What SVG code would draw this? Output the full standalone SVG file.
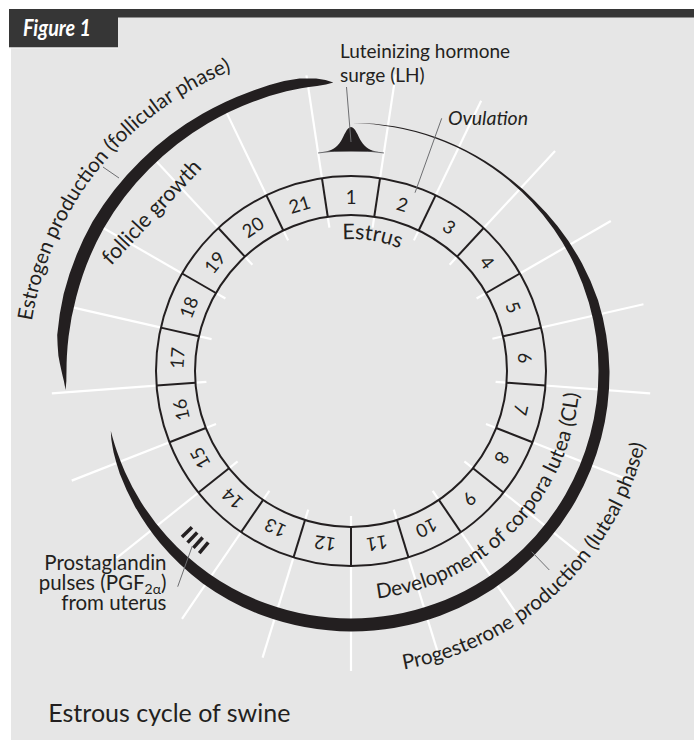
<svg xmlns="http://www.w3.org/2000/svg" width="694" height="740" viewBox="0 0 694 740">
<style>
.t{font-family:Lato,"Noto Sans",sans-serif;fill:#231f20}
.num{font-family:Lato,"Noto Sans",sans-serif;fill:#231f20;font-size:18.5px;text-anchor:middle}
.wl{stroke:#ffffff;stroke-width:2.2}
.dv{stroke:#231f20;stroke-width:2}
.ld{stroke:#6d6e71;stroke-width:1;fill:none}
.blk{fill:#231f20}
</style>
<defs>
<path id="pEst" d="M50.26,488.86 A323,323 0 0 1 399.30,51.63"/>
<path id="pProg" d="M262.41,660.76 A303,303 0 0 0 646.23,302.84"/>
<path id="pDev" d="M293.66,592.71 A229,229 0 0 0 571.67,309.80"/>
<path id="pEstrus" d="M248.42,287.93 A132,132 0 0 1 474.23,323.70"/>
</defs>
<rect x="0" y="0" width="694" height="740" fill="#ffffff"/>
<rect x="11" y="17" width="683" height="723" fill="#e6e6e6"/>
<g id="header">
<rect x="9" y="9" width="685" height="8.5" fill="#363636"/>
<rect x="9" y="9" width="109" height="38.5" fill="#363636"/>
<line x1="9" y1="48" x2="118" y2="48" stroke="#f4f4f4" stroke-width="1"/>
<text class="t" x="23" y="36" font-size="22" font-weight="700" font-style="italic" style="fill:#ffffff" textLength="68" lengthAdjust="spacingAndGlyphs">Figure 1</text>
</g>
<g id="guides">
<line class="wl" x1="351" y1="226" x2="351" y2="71" transform="rotate(8.571 351 371)"/>
<line class="wl" x1="351" y1="226" x2="351" y2="71" transform="rotate(25.714 351 371)"/>
<line class="wl" x1="351" y1="226" x2="351" y2="71" transform="rotate(42.857 351 371)"/>
<line class="wl" x1="351" y1="226" x2="351" y2="71" transform="rotate(60 351 371)"/>
<line class="wl" x1="351" y1="226" x2="351" y2="71" transform="rotate(77.143 351 371)"/>
<line class="wl" x1="351" y1="226" x2="351" y2="71" transform="rotate(94.286 351 371)"/>
<line class="wl" x1="351" y1="226" x2="351" y2="71" transform="rotate(111.429 351 371)"/>
<line class="wl" x1="351" y1="226" x2="351" y2="71" transform="rotate(128.571 351 371)"/>
<line class="wl" x1="351" y1="226" x2="351" y2="71" transform="rotate(145.714 351 371)"/>
<line class="wl" x1="351" y1="226" x2="351" y2="71" transform="rotate(162.857 351 371)"/>
<line class="wl" x1="351" y1="226" x2="351" y2="71" transform="rotate(180 351 371)"/>
<line class="wl" x1="351" y1="226" x2="351" y2="71" transform="rotate(197.143 351 371)"/>
<line class="wl" x1="351" y1="226" x2="351" y2="71" transform="rotate(214.286 351 371)"/>
<line class="wl" x1="351" y1="226" x2="351" y2="71" transform="rotate(231.429 351 371)"/>
<line class="wl" x1="351" y1="226" x2="351" y2="71" transform="rotate(248.571 351 371)"/>
<line class="wl" x1="351" y1="226" x2="351" y2="71" transform="rotate(265.714 351 371)"/>
<line class="wl" x1="351" y1="228" x2="351" y2="82" transform="rotate(282.857 351 371)"/>
<line class="wl" x1="351" y1="226" x2="351" y2="82" transform="rotate(300 351 371)"/>
<line class="wl" x1="351" y1="226" x2="351" y2="82" transform="rotate(317.143 351 371)"/>
<line class="wl" x1="351" y1="226" x2="351" y2="82" transform="rotate(334.286 351 371)"/>
<line class="wl" x1="351" y1="226" x2="351" y2="72" transform="rotate(351.429 351 371)"/>
</g>
<g id="ring">
<circle cx="351" cy="371" r="175.5" fill="none" stroke="#e6e6e6" stroke-width="39"/>
<circle cx="351" cy="371" r="195" fill="none" stroke="#231f20" stroke-width="2"/>
<circle cx="351" cy="371" r="156" fill="none" stroke="#231f20" stroke-width="2"/>
<line class="dv" x1="351" y1="215" x2="351" y2="176" transform="rotate(8.571 351 371)"/>
<line class="dv" x1="351" y1="215" x2="351" y2="176" transform="rotate(25.714 351 371)"/>
<line class="dv" x1="351" y1="215" x2="351" y2="176" transform="rotate(42.857 351 371)"/>
<line class="dv" x1="351" y1="215" x2="351" y2="176" transform="rotate(60 351 371)"/>
<line class="dv" x1="351" y1="215" x2="351" y2="176" transform="rotate(77.143 351 371)"/>
<line class="dv" x1="351" y1="215" x2="351" y2="176" transform="rotate(94.286 351 371)"/>
<line class="dv" x1="351" y1="215" x2="351" y2="176" transform="rotate(111.429 351 371)"/>
<line class="dv" x1="351" y1="215" x2="351" y2="176" transform="rotate(128.571 351 371)"/>
<line class="dv" x1="351" y1="215" x2="351" y2="176" transform="rotate(145.714 351 371)"/>
<line class="dv" x1="351" y1="215" x2="351" y2="176" transform="rotate(162.857 351 371)"/>
<line class="dv" x1="351" y1="215" x2="351" y2="176" transform="rotate(180 351 371)"/>
<line class="dv" x1="351" y1="215" x2="351" y2="176" transform="rotate(197.143 351 371)"/>
<line class="dv" x1="351" y1="215" x2="351" y2="176" transform="rotate(214.286 351 371)"/>
<line class="dv" x1="351" y1="215" x2="351" y2="176" transform="rotate(231.429 351 371)"/>
<line class="dv" x1="351" y1="215" x2="351" y2="176" transform="rotate(248.571 351 371)"/>
<line class="dv" x1="351" y1="215" x2="351" y2="176" transform="rotate(265.714 351 371)"/>
<line class="dv" x1="351" y1="215" x2="351" y2="176" transform="rotate(282.857 351 371)"/>
<line class="dv" x1="351" y1="215" x2="351" y2="176" transform="rotate(300 351 371)"/>
<line class="dv" x1="351" y1="215" x2="351" y2="176" transform="rotate(317.143 351 371)"/>
<line class="dv" x1="351" y1="215" x2="351" y2="176" transform="rotate(334.286 351 371)"/>
<line class="dv" x1="351" y1="215" x2="351" y2="176" transform="rotate(351.429 351 371)"/>
<text class="num" x="351" y="203.5">1</text>
<text class="num" x="351" y="203.5" transform="rotate(17.143 351 371)">2</text>
<text class="num" x="351" y="203.5" transform="rotate(34.286 351 371)">3</text>
<text class="num" x="351" y="203.5" transform="rotate(51.429 351 371)">4</text>
<text class="num" x="351" y="203.5" transform="rotate(68.571 351 371)">5</text>
<text class="num" x="351" y="203.5" transform="rotate(85.714 351 371)">6</text>
<text class="num" x="351" y="203.5" transform="rotate(102.857 351 371)">7</text>
<text class="num" x="351" y="203.5" transform="rotate(120 351 371)">8</text>
<text class="num" x="351" y="203.5" transform="rotate(137.143 351 371)">9</text>
<text class="num" x="351" y="203.5" transform="rotate(154.286 351 371)">10</text>
<text class="num" x="351" y="203.5" transform="rotate(171.429 351 371)">11</text>
<text class="num" x="351" y="203.5" transform="rotate(188.571 351 371)">12</text>
<text class="num" x="351" y="203.5" transform="rotate(205.714 351 371)">13</text>
<text class="num" x="351" y="203.5" transform="rotate(222.857 351 371)">14</text>
<text class="num" x="351" y="203.5" transform="rotate(240 351 371)">15</text>
<text class="num" x="351" y="203.5" transform="rotate(257.143 351 371)">16</text>
<text class="num" x="351" y="203.5" transform="rotate(274.286 351 371)">17</text>
<text class="num" x="351" y="203.5" transform="rotate(291.429 351 371)">18</text>
<text class="num" x="351" y="203.5" transform="rotate(308.571 351 371)">19</text>
<text class="num" x="351" y="203.5" transform="rotate(325.714 351 371)">20</text>
<text class="num" x="351" y="203.5" transform="rotate(342.857 351 371)">21</text>
</g>
<g id="estrogen">
<path class="blk" d="M65.63,389.95 A287.3,287.3 0 0 1 63.88,381.03 A289.5,289.5 0 0 1 61.5,371 A293,293 0 0 1 58.40,355.66 A296,296 0 0 1 57.21,334.93 A297.5,297.5 0 0 1 63.64,294.00 A298.5,298.5 0 0 1 92.49,221.75 A297.5,297.5 0 0 1 140.63,160.63 A297,297 0 0 1 202.5,113.79 A297,297 0 0 1 249.42,91.91 A297.5,297.5 0 0 1 284.08,81.12 A297,297 0 0 1 299.43,78.51 A294.5,294.5 0 0 1 316.13,78.57 A292,292 0 0 1 325.55,80.11 A289,289 0 0 1 333.36,82.54 A287.5,287.5 0 0 0 325.94,84.60 A287,287 0 0 0 317.02,86.02 A287,287 0 0 0 301.16,88.36 A287,287 0 0 0 286.44,91.36 A286.5,286.5 0 0 0 253.01,101.78 A286,286 0 0 0 208,123.32 A285.5,285.5 0 0 0 149.12,169.12 A285.5,285.5 0 0 0 103.75,228.25 A284.5,284.5 0 0 0 76.19,297.37 A284.5,284.5 0 0 0 68.62,336.33 A284.5,284.5 0 0 0 66.89,356.11 A284.5,284.5 0 0 0 66.5,371 A284.8,284.8 0 0 0 66.37,380.94 A286,286 0 0 0 65.63,389.95 Z"/>
<text class="t" font-size="20.6"><textPath href="#pEst" startOffset="50%" text-anchor="middle">Estrogen production (follicular phase)</textPath></text>
<text class="t" font-size="21.5" transform="translate(111 266) rotate(-47)">follicle growth</text>
</g>
<g id="progesterone">
<path class="blk" d="M353.2,123.0 A248.5,248.5 0 0 1 394.15,126.28 A248.7,248.7 0 0 1 436.06,137.30 A249,249 0 0 1 475.5,155.36 A249.5,249.5 0 0 1 511.38,179.87 A250.5,250.5 0 0 1 534.20,200.16 A252.3,252.3 0 0 1 557.67,226.29 A254.8,254.8 0 0 1 581.93,263.32 A257,257 0 0 1 598.04,300.16 A258.5,258.5 0 0 1 609.5,371 A259,259 0 0 1 601.18,438.03 A259.5,259.5 0 0 1 575.74,500.75 A260,260 0 0 1 518.13,570.17 A260.5,260.5 0 0 1 440.10,615.79 A260.5,260.5 0 0 1 351,631.5 A260,260 0 0 1 262.07,615.32 A259,259 0 0 1 202.44,583.16 A257,257 0 0 1 160.01,542.97 A255,255 0 0 1 134.75,506.13 A253,253 0 0 1 119.87,473.91 A251,251 0 0 1 113.67,452.72 A249.3,249.3 0 0 1 111.36,439.72 A248,248 0 0 1 110.85,430.88 A247.5,247.5 0 0 0 113.09,439.22 A247.5,247.5 0 0 0 116.98,451.58 A247.5,247.5 0 0 0 124.90,471.67 A247.5,247.5 0 0 0 141.11,502.16 A247.5,247.5 0 0 0 167.07,536.61 A247.5,247.5 0 0 0 209.04,573.74 A247.5,247.5 0 0 0 266.35,603.57 A247.5,247.5 0 0 0 351,618.5 A247.5,247.5 0 0 0 435.65,603.57 A247.5,247.5 0 0 0 510.09,560.59 A247.5,247.5 0 0 0 565.34,494.75 A247.5,247.5 0 0 0 590.07,435.06 A247.5,247.5 0 0 0 598.5,371 A247.5,247.5 0 0 0 588.91,302.78 A247.5,247.5 0 0 0 575.31,266.40 A247.5,247.5 0 0 0 553.74,229.04 A247.5,247.5 0 0 0 532.01,202.20 A247.5,247.5 0 0 0 510.09,181.41 A247.5,247.5 0 0 0 474.75,156.66 A247.5,247.5 0 0 0 435.65,138.43 A247.5,247.5 0 0 0 393.98,127.26 A247.8,247.8 0 0 0 353.2,123.0 Z"/>
<text class="t" font-size="20.6"><textPath href="#pProg" startOffset="50%" text-anchor="middle">Progesterone production (luteal phase)</textPath></text>
<text class="t" font-size="20.6"><textPath href="#pDev" startOffset="50%" text-anchor="middle">Development of corpora lutea (CL)</textPath></text>
</g>
<g id="estrus">
<text class="t" font-size="21.5"><textPath href="#pEstrus" startOffset="50%" text-anchor="middle">Estrus</textPath></text>
</g>
<g id="lh">
<path class="ld" d="M318.1,152.96 A220.5,220.5 0 0 1 383.9,152.96"/>
<path class="blk" d="M323,151.6 C332,151.2 337,147.5 341,141 C344,136 347,127 351,127 C355,127 358,136 361,141 C365,147.5 370,151.2 379,151.6 Z"/>
<text class="t" font-size="19" x="340" y="58">Luteinizing hormone</text>
<text class="t" font-size="19" x="340" y="81.7">surge (LH)</text>
</g>
<g id="ovulation">
<text class="t" font-size="19.5" font-style="italic" x="448" y="125">Ovulation</text>
</g>
<g id="prostaglandin">
<line x1="351" y1="148" x2="351" y2="134" stroke="#231f20" stroke-width="3.5" transform="rotate(225.5 351 371)"/>
<line x1="351" y1="148" x2="351" y2="134" stroke="#231f20" stroke-width="3.5" transform="rotate(223.6 351 371)"/>
<line x1="351" y1="148" x2="351" y2="134" stroke="#231f20" stroke-width="3.5" transform="rotate(221.7 351 371)"/>
<line x1="351" y1="148" x2="351" y2="134" stroke="#231f20" stroke-width="3.5" transform="rotate(219.8 351 371)"/>
<text class="t" font-size="20.5" text-anchor="end" x="166.5" y="570">Prostaglandin</text>
<text class="t" font-size="20.5" text-anchor="end" x="166.5" y="589.5">pulses (PGF<tspan font-size="14" dy="4">2α</tspan><tspan dy="-4">)</tspan></text>
<text class="t" font-size="20.5" text-anchor="end" x="166.5" y="610">from uterus</text>
</g>
<g id="connectors">
<line class="ld" x1="346.5" y1="87" x2="351" y2="142"/>
<line class="ld" x1="441.7" y1="118.3" x2="415" y2="192.7"/>
<line class="ld" x1="119" y1="178" x2="103" y2="167"/>
<line class="ld" x1="531.7" y1="551.7" x2="549.3" y2="570"/>
<line class="ld" x1="177.7" y1="586.7" x2="192.3" y2="546"/>
</g>
<g id="title">
<text class="t" font-size="25" x="48.3" y="721.7">Estrous cycle of swine</text>
</g>
</svg>
